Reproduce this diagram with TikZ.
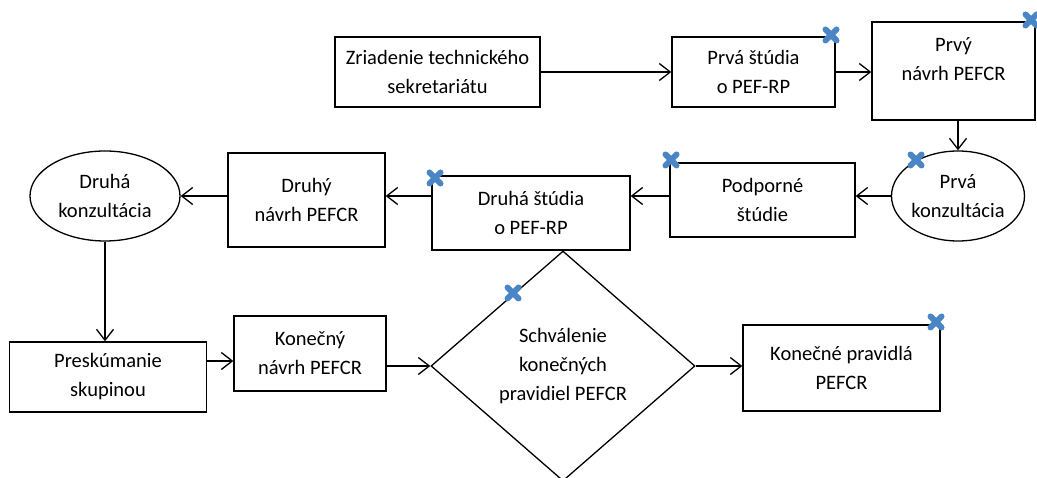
\documentclass[tikz,border=0pt]{standalone}
\usepackage{fontspec}
\setmainfont{Carlito}
\usetikzlibrary{arrows.meta,shapes.geometric,calc}
\definecolor{xblue}{RGB}{74,134,198}
\begin{document}
\begin{tikzpicture}[x=1pt,y=-1pt,
  every node/.style={font=\fontsize{20.5}{29}\selectfont, align=center, inner sep=0pt},
  box/.style={draw, rectangle, line width=1.3pt},
  oval/.style={draw, ellipse, line width=1.3pt},
  dia/.style={draw, diamond, line width=1.3pt},
  arr/.style={line width=1.3pt, -{Straight Barb[length=11pt,width=17pt,line width=1.3pt]}},
  xmark/.style={xblue, line width=6pt, line cap=round}]
\useasboundingbox (0,0) rectangle (1037,478);
\node[box, minimum width=205pt, minimum height=70pt] (z) at (437.5,72) {Zriadenie technického\\sekretariátu};
\node[box, minimum width=163pt, minimum height=70pt] (ps) at (753.5,72) {Prvá štúdia\\o PEF-RP};
\node[box, minimum width=163pt, minimum height=98pt,
  label={[anchor=north, yshift=-16pt, align=center]north:Prvý\\návrh PEFCR}] (pn) at (953.5,71) {};
\node[oval, minimum width=133pt, minimum height=90pt] (pk) at (958,196) {Prvá\\konzultácia};
\node[box, minimum width=185pt, minimum height=74pt] (pod) at (762.5,200) {Podporné\\štúdie};
\node[box, minimum width=198pt, minimum height=74pt] (ds) at (531,213) {Druhá štúdia\\o PEF-RP};
\node[box, minimum width=157pt, minimum height=94pt] (dn) at (306.5,200) {Druhý\\návrh PEFCR};
\node[oval, minimum width=150pt, minimum height=90pt] (dk) at (105,196) {Druhá\\konzultácia};
\node[box, minimum width=197pt, minimum height=70pt] (pre) at (108,377) {Preskúmanie\\skupinou};
\node[box, minimum width=152pt, minimum height=75pt] (kn) at (310,353.5) {Konečný\\návrh PEFCR};
\node[dia, minimum width=264pt, minimum height=230pt] (d) at (563,366) {Schválenie\\konečných\\pravidiel PEFCR};
\node[box, minimum width=197pt, minimum height=86pt] (kp) at (841.5,368) {Konečné pravidlá\\PEFCR};
% connectors
\draw[arr] (z.east) -- (ps.west);
\draw[arr] (ps.east) -- (pn.west |- ps.east);
\draw[arr] (pk.north |- pn.south) -- (pk.north);
\draw[arr] (pk.west) -- (pod.east |- pk.west);
\draw[arr] (pod.west |- pk.west) -- (ds.east |- pk.west);
\draw[arr] (ds.west |- pk.west) -- (dn.east |- pk.west);
\draw[arr] (dn.west |- pk.west) -- (dk.east);
\draw[arr] (dk.south) -- (dk.south |- pre.north);
\coordinate (r3) at (0,361);
\draw[arr] (pre.east |- r3) -- (kn.west |- r3);
\draw[arr] (kn.east |- d.west) -- (d.west);
\draw[arr] (d.east) -- (kp.west |- d.east);
% blue crosses
\foreach \cx/\cy in {831/35, 1031/20, 916/160, 671/160, 435/178, 513/293, 936/322}{
  \draw[xmark] (\cx-5.5,\cy-5.5) -- (\cx+5.5,\cy+5.5);
  \draw[xmark] (\cx-5.5,\cy+5.5) -- (\cx+5.5,\cy-5.5);
}
\end{tikzpicture}
\end{document}
